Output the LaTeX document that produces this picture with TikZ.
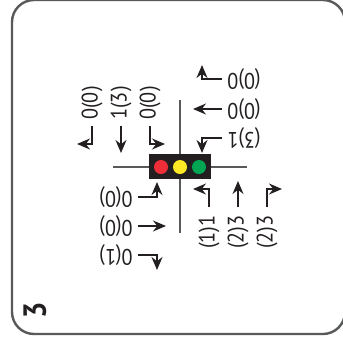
\documentclass[tikz,border=0pt]{standalone}
\usepackage{fontspec}
\setmainfont[FakeStretch=0.9]{PT Sans}
\usetikzlibrary{arrows.meta}
\definecolor{ink}{HTML}{231F20}
\definecolor{roadgrey}{HTML}{58595B}
\definecolor{lampred}{HTML}{ED2E38}
\definecolor{lampyellow}{HTML}{FFE925}
\definecolor{lampgreen}{HTML}{00A651}
\tikzset{
  count/.style={inner sep=0pt,font=\fontsize{22.5}{22.5}\selectfont,color=ink},
  countup/.style={count,rotate=90},
  countflip/.style={count,rotate=180},
  turn/.style={draw=ink,line width=1.3pt,-{Stealth[length=13pt,width=11pt]}},
  road/.style={draw=roadgrey,line width=2pt},
  lamp/.style={circle,inner sep=0pt,minimum size=14pt},
}
\begin{document}
\begin{tikzpicture}[x=1pt,y=-1pt]
        \useasboundingbox (0,0) rectangle (343,341);
        \clip (0,0) rectangle (343,341);
        \draw[roadgrey,line width=2.4pt,rounded corners=22pt] (12,0) rectangle (345,334);
        \node[font=\bfseries\fontsize{32}{32}\selectfont,color=ink,rotate=90,inner sep=0pt] (panel) at (35,310) {3};
        % roads and signal
        \coordinate (roadn) at (180,100);
        \coordinate (roads) at (180,233);
        \coordinate (roadw) at (113,167);
        \coordinate (roade) at (247,167);
        \draw[road] (roadn) -- (roads);
        \draw[road] (roadw) -- (roade);
        \node[fill=ink,minimum width=62pt,minimum height=25pt,inner sep=0pt] (signal) at (180,166.5) {};
        \node[lamp,fill=lampred] (red) at (161,167) {};
        \node[lamp,fill=lampyellow] (yellow) at (180,167) {};
        \node[lamp,fill=lampgreen] (green) at (199,167) {};
        % north approach
        \node[countup] (nleft) at (92,103) {0(0)};
        \node[countup] (nthru) at (121,103) {1(3)};
        \node[countup] (nright) at (150,103) {0(0)};
        \coordinate (nlefttip) at (77,144);
        \coordinate (nthrutip) at (121,153);
        \coordinate (nrighttip) at (165,144);
        \draw[turn,shorten <=6pt] (nleft.west) |- (nlefttip);
        \draw[turn,shorten <=6pt] (nthru.west) -- (nthrutip);
        \draw[turn,shorten <=6pt] (nright.west) |- (nrighttip);
        % east approach
        \node[countflip] (eleft) at (244,79) {(0)0};
        \node[countflip] (ethru) at (244,109) {(0)0};
        \node[countflip] (eright) at (244,138) {(3)1};
        \coordinate (elefttip) at (202,65);
        \coordinate (ethrutip) at (193,109);
        \coordinate (erighttip) at (202,153);
        \draw[turn,shorten <=5pt] (eleft.east) -| (elefttip);
        \draw[turn,shorten <=5pt] (ethru.east) -- (ethrutip);
        \draw[turn,shorten <=5pt] (eright.east) -| (erighttip);
        % west approach
        \node[countflip] (wleft) at (116,197) {0(0)};
        \node[countflip] (wthru) at (116,226) {0(0)};
        \node[countflip] (wright) at (116,255) {0(1)};
        \coordinate (wlefttip) at (157,182);
        \coordinate (wthrutip) at (166,226);
        \coordinate (wrighttip) at (157,270);
        \draw[turn,shorten <=5pt] (wleft.west) -| (wlefttip);
        \draw[turn,shorten <=5pt] (wthru.west) -- (wthrutip);
        \draw[turn,shorten <=5pt] (wright.west) -| (wrighttip);
        % south approach
        \node[countup] (sleft) at (209,232) {(1)1};
        \node[countup] (sthru) at (238,232) {(2)3};
        \node[countup] (sright) at (267,232) {(2)3};
        \coordinate (slefttip) at (193,189);
        \coordinate (sthrutip) at (238,181);
        \coordinate (srighttip) at (282,189);
        \draw[turn,shorten <=8pt] (sleft.east) |- (slefttip);
        \draw[turn,shorten <=8pt] (sthru.east) -- (sthrutip);
        \draw[turn,shorten <=8pt] (sright.east) |- (srighttip);
      \end{tikzpicture}
\end{document}
